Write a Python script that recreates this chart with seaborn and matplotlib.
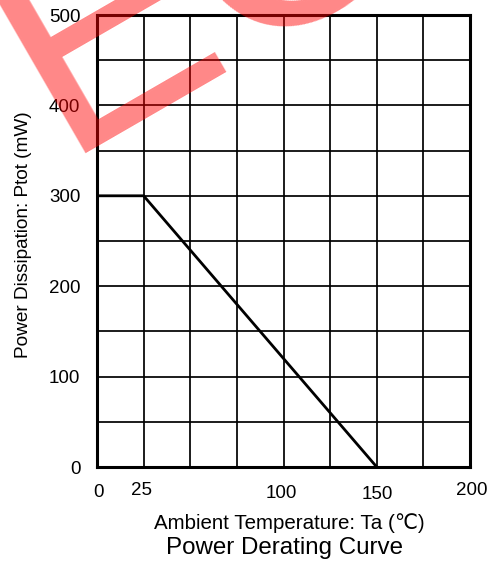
import matplotlib
matplotlib.use("Agg")
import matplotlib.pyplot as plt
import matplotlib.transforms as mtransforms
import seaborn as sns
import pandas as pd

# ---- data ----
temperature = [0, 25, 150]          # Ambient temperature Ta (°C)
power = [300, 300, 0]               # Power dissipation Ptot (mW)
x_ticks = [0, 25, 50, 75, 100, 125, 150, 175, 200]
x_tick_labels = ["0", "25", "", "", "100", "", "150", "", "200"]
y_ticks = [0, 50, 100, 150, 200, 250, 300, 350, 400, 450, 500]
y_tick_labels = ["0", "", "100", "", "200", "", "300", "", "400", "", "500"]
x_label = "Ambient Temperature: Ta (\u2103)"
y_label = "Power Dissipation: Ptot (mW)"
title = "Power Derating Curve"
watermark = "EC"

# small per-label nudges (pixels, right/down) seen in the reference
x_label_nudge = [(1.5, 0), (-2.5, -2), (0, 0), (0, 0), (-2.5, 1.5), (0, 0),
                 (0.75, 2.5), (0, 0), (1.5, -1.5)]

sns.set_style("white")
plt.rcParams["font.family"] = ["Liberation Sans", "DejaVu Sans"]

fig = plt.figure(figsize=(4.95, 5.63), dpi=100)
ax = fig.add_axes([97 / 495, 1 - 467 / 563, 373 / 495, 452 / 563])

df = pd.DataFrame({"Ta": temperature, "Ptot": power})
sns.lineplot(data=df, x="Ta", y="Ptot", ax=ax, color="black", linewidth=2.0,
             sort=False, zorder=3)

ax.set_xlim(0, 200)
ax.set_ylim(0, 500)
ax.set_xticks(x_ticks)
ax.set_xticklabels(x_tick_labels)
ax.set_yticks(y_ticks)
ax.set_yticklabels(y_tick_labels)
ax.tick_params(axis="both", length=0, labelsize=13.5, colors="black")
ax.tick_params(axis="x", pad=12)
ax.tick_params(axis="y", pad=12)
ax.grid(True, color="black", linewidth=1.25)
for s in ax.spines.values():
    s.set_color("black")
    s.set_linewidth(2.2)
    s.set_visible(True)

for lbl, (dx, dy) in zip(ax.get_xticklabels(), x_label_nudge):
    off = mtransforms.ScaledTranslation(dx / 100, -dy / 100, fig.dpi_scale_trans)
    lbl.set_transform(lbl.get_transform() + off)

ax.set_xlabel(x_label, fontsize=14.8, color="black", va="center")
ax.xaxis.set_label_coords(0.515, -0.124)
ax.set_ylabel(y_label, fontsize=13.7, color="black", va="center")
ax.yaxis.set_label_coords(-0.196, 0.515)

fig.text(285 / 495, 1 - 548 / 563, title, fontsize=17.4, ha="center",
         va="center", color="black")

# watermark
fig.text(61 / 495, 1 - 153 / 563, watermark, fontsize=216, color="red",
         alpha=0.47, rotation=30, rotation_mode="anchor", ha="left",
         va="baseline", family="Liberation Sans", zorder=10)

fig.savefig("out.png", dpi=100)
